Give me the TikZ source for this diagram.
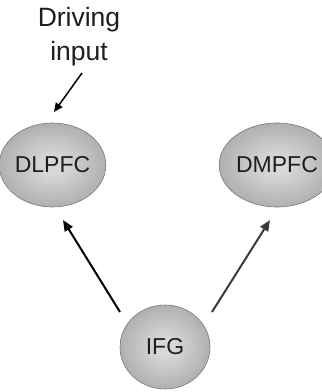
\documentclass[tikz,border=0pt]{standalone}
\usepackage{fontspec}
\setmainfont{Liberation Sans}
\usetikzlibrary{arrows.meta,shapes.geometric}
\definecolor{edgegray}{HTML}{777777}
\definecolor{innergray}{HTML}{D8D8D8}
\definecolor{midgray}{HTML}{A6A6A6}
\definecolor{outergray}{HTML}{858585}
\definecolor{txtgray}{HTML}{1E1E1E}
\definecolor{arrgray}{HTML}{3A3A3A}
\pgfdeclareradialshading{ballgray}{\pgfpoint{0bp}{0bp}}{color(0bp)=(innergray); color(5bp)=(innergray); color(30bp)=(midgray); color(46bp)=(outergray); color(50bp)=(outergray)}
\tikzset{
  region/.style={ellipse, minimum width=90pt, minimum height=84pt, inner sep=0pt,
    draw=edgegray, line width=0.6pt, shading=ballgray,
    font=\fontsize{23}{26}\selectfont, text=txtgray},
  conn/.style={line width=2pt, -{Triangle[length=11pt,width=9pt]}},
  inarrow/.style={line width=1.5pt, -{Triangle[length=9pt,width=8pt]}},
}
\begin{document}
\begin{tikzpicture}[x=1pt,y=1pt]
\useasboundingbox (0,0) rectangle (322,392);
\node[region] (dlpfc) at (52.5,227) {DLPFC};
\node[region] (dmpfc) at (277,227) {DMPFC};
\node[region] (ifg) at (165,45) {IFG};
\node[align=center, font=\fontsize{26.5}{34}\selectfont, text=txtgray] (drv) at (79,355) {Driving\\input};
\coordinate (ls) at (120,80);
\coordinate (lt) at (63,172);
\coordinate (rs) at (212,80);
\coordinate (rt) at (270,172);
\coordinate (ds) at (82,319);
\coordinate (dt) at (54,280);
\draw[conn, black] (ls) -- (lt);
\draw[conn, arrgray] (rs) -- (rt);
\draw[inarrow, black] (ds) -- (dt);
\end{tikzpicture}
\end{document}
